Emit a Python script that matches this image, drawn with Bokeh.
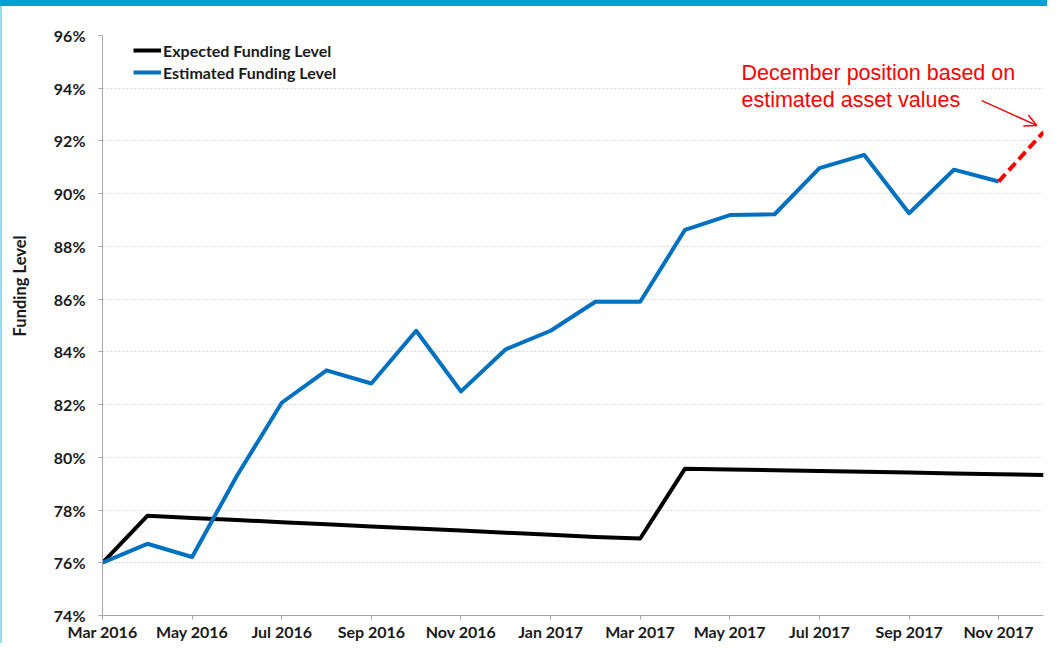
from math import pi
from bokeh.plotting import figure
from bokeh.layouts import column, row
from bokeh.models import (FixedTicker, Legend, LegendItem, Label, Arrow, OpenHead,
                          Range1d, PrintfTickFormatter, Div)
from bokeh.embed import file_html
from bokeh.resources import INLINE

months = ["Mar 2016", "Apr 2016", "May 2016", "Jun 2016", "Jul 2016", "Aug 2016",
          "Sep 2016", "Oct 2016", "Nov 2016", "Dec 2016", "Jan 2017", "Feb 2017",
          "Mar 2017", "Apr 2017", "May 2017", "Jun 2017", "Jul 2017", "Aug 2017",
          "Sep 2017", "Oct 2017", "Nov 2017", "Dec 2017"]

expected = [76.0, 77.78, 77.70, 77.62, 77.54, 77.46, 77.38, 77.30, 77.22, 77.14,
            77.06, 76.98, 76.92, 79.57, 79.54, 79.51, 79.48, 79.45, 79.42, 79.39,
            79.36, 79.33]

estimated = [76.0, 76.72, 76.22, 79.3, 82.07, 83.3, 82.8, 84.8, 82.5, 84.1,
             84.8, 85.9, 85.9, 88.63, 89.19, 89.22, 90.97, 91.47, 89.26, 90.91,
             90.46]

december_estimate = 92.34

y_ticks = list(range(74, 97, 2))
x_label_every = 2

y_title = "Funding Level"
annotation_lines = ["December position based on", "estimated asset values"]

x_all = list(range(len(months)))
x_est = x_all[:len(estimated)]
x_proj = [x_est[-1], x_all[-1]]
y_proj = [estimated[-1], december_estimate]

BAND, EDGE, TITLE_W = 6, 2, 38
H = 643 - BAND
W = 1047 - EDGE - TITLE_W

p = figure(width=W, height=H, output_backend="svg", toolbar_location=None,
           x_range=Range1d(0, len(months) - 1), y_range=Range1d(74, 96),
           min_border_left=102 - EDGE - TITLE_W, min_border_right=4,
           min_border_top=29, min_border_bottom=28)
p.outline_line_color = None
p.background_fill_color = "white"
p.border_fill_color = "white"

p.xgrid.visible = False
p.ygrid.grid_line_color = "#d4d4d4"
p.ygrid.grid_line_dash = "2 2"
p.ygrid.grid_line_width = 1

for ax in (p.xaxis[0], p.yaxis[0]):
    ax.axis_line_color = "#a6a6a6"
    ax.axis_line_width = 1
    ax.major_tick_line_color = "#a6a6a6"
    ax.major_tick_out = 4
    ax.major_tick_in = 0
    ax.minor_tick_line_color = None
    ax.major_label_text_font = "Lato"
    ax.major_label_text_font_style = "bold"
    ax.major_label_text_font_size = "16px"
    ax.major_label_text_color = "#1a1a1a"

p.yaxis[0].ticker = FixedTicker(ticks=y_ticks)
p.yaxis[0].formatter = PrintfTickFormatter(format="%d%%")
p.yaxis[0].major_label_standoff = 13

xt = [i for i in x_all[::x_label_every] if i < len(estimated)]
p.xaxis[0].ticker = FixedTicker(ticks=xt)
p.xaxis[0].major_label_overrides = {i: months[i] for i in xt}
p.xaxis[0].major_label_standoff = 2

r_exp = p.line(x_all, expected, line_color="black", line_width=4, line_join="round")
r_est = p.line(x_est, estimated, line_color="#0070c0", line_width=4, line_join="round")
p.line(x_proj, y_proj, line_color="#ff0000", line_width=4, line_dash="10 5")

legend = Legend(items=[LegendItem(label="Expected Funding Level", renderers=[r_exp]),
                       LegendItem(label="Estimated Funding Level", renderers=[r_est])],
                location=(31, 533), padding=0, margin=0, spacing=2,
                glyph_width=28, glyph_height=20, label_height=20, label_standoff=2,
                label_text_font="Lato", label_text_font_style="bold",
                label_text_font_size="16px", label_text_color="#1a1a1a",
                border_line_alpha=0, background_fill_alpha=0)
p.add_layout(legend)

for i, line in enumerate(annotation_lines):
    p.add_layout(Label(x=14.26, y=94.56 - 0.99 * i, text=line, text_align="left",
                       text_baseline="middle", text_font="Liberation Sans",
                       text_font_size="21.5px", text_color="#ff0000"))

p.add_layout(Arrow(end=OpenHead(size=12, line_color="#ff0000", line_width=1.5),
                   x_start=19.62, y_start=93.53, x_end=20.85, y_end=92.59,
                   line_color="#ff0000", line_width=1.5))

# narrow strip at the left that carries the vertical axis title
tfig = figure(width=TITLE_W, height=H, output_backend="svg", toolbar_location=None,
              x_range=Range1d(0, 1), y_range=Range1d(0, 1),
              x_axis_type=None, y_axis_type=None, min_border=0)
tfig.outline_line_color = None
tfig.border_fill_color = "white"
tfig.add_layout(Label(x=17 / TITLE_W, y=1 - (281 - BAND) / H, text=y_title, angle=pi / 2,
                      text_align="center", text_baseline="middle", text_font="Lato",
                      text_font_style="bold", text_font_size="16.5px",
                      text_color="#1a1a1a"))

band = Div(text="", width=1047, height=BAND, margin=0,
           styles={"background-color": "#00a6c9"})
edge = Div(text="", width=EDGE, height=H, margin=0,
           styles={"background-color": "#94dcef"})
layout = column(band, row(edge, tfig, p, spacing=0), spacing=0)

open("out.html", "w").write(file_html(layout, INLINE))
